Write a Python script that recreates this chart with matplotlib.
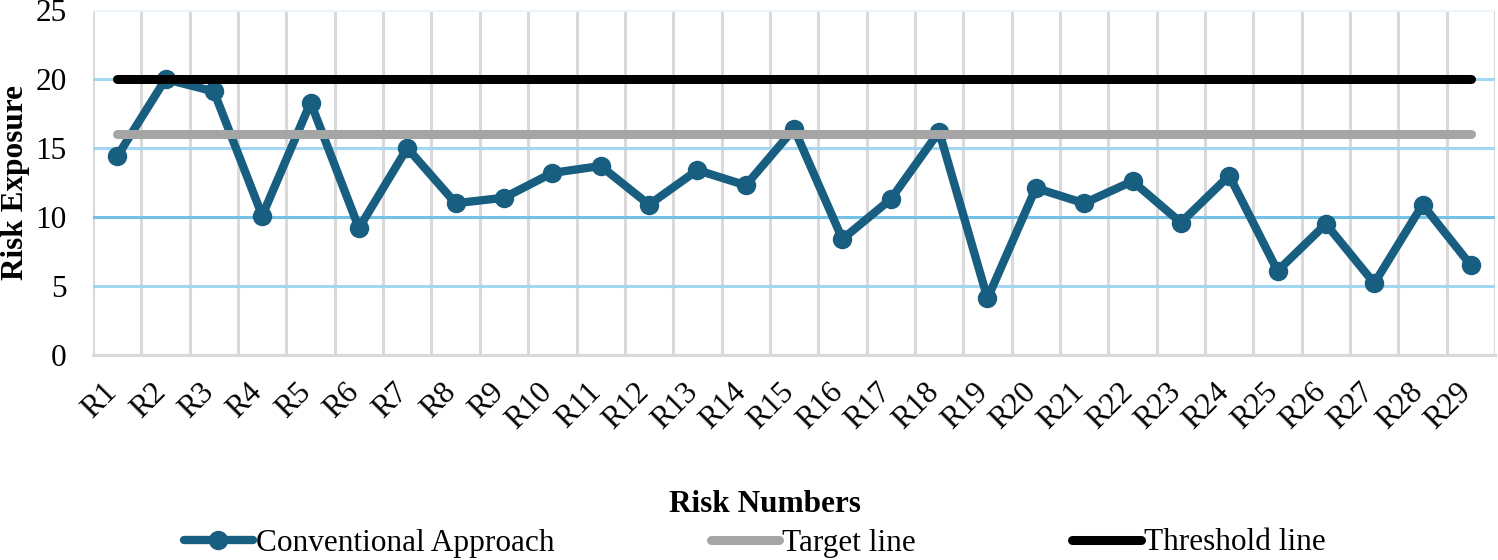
import matplotlib
matplotlib.use("Agg")
import matplotlib.pyplot as plt
from matplotlib.transforms import ScaledTranslation
import numpy as np

plt.rcParams['font.family'] = ['Liberation Serif', 'DejaVu Serif']

risks = ['R%d' % i for i in range(1, 30)]
conventional = [14.4, 20.0, 19.1, 10.1, 18.3, 9.2, 15.0, 11.0, 11.4, 13.2,
                13.7, 10.9, 13.4, 12.3, 16.4, 8.4, 11.3, 16.2, 4.1, 12.1,
                11.0, 12.6, 9.6, 13.0, 6.1, 9.5, 5.2, 10.9, 6.5]
target = [16] * 29
threshold = [20] * 29

fs = 22.5
fig = plt.figure(figsize=(14.98, 5.6), dpi=100)
ax = fig.add_axes([0.0621, 0.366, 0.936, 0.616])

x = np.arange(len(risks))
ax.plot(x, conventional, color='#185e80', lw=6, marker='o', markersize=13,
        label='Conventional Approach', solid_capstyle='round', zorder=3)
ax.plot(x, target, color='#a5a5a5', lw=6.5, label='Target line',
        solid_capstyle='round', zorder=4)
ax.plot(x, threshold, color='black', lw=6.5, label='Threshold line',
        solid_capstyle='round', zorder=5)

ax.set_xlim(-0.5, len(risks) - 0.5)
ax.set_ylim(0, 25)
ax.set_yticks([0, 5, 10, 15, 20, 25])
ax.set_xticks(x)
ax.set_xticklabels(risks, rotation=45, ha='right', fontsize=fs)
ax.set_xticks(np.arange(-0.5, len(risks)), minor=True)
ax.tick_params(axis='x', which='both', length=0, pad=16)
ax.tick_params(axis='y', length=0, pad=19, labelsize=fs)
shift = ScaledTranslation(6 / 100, 0, fig.dpi_scale_trans)
for lab in ax.get_xticklabels():
    lab.set_transform(lab.get_transform() + shift)

# gridlines
ax.grid(axis='y', color='#a3d7f1', lw=2.2, zorder=1)
ax.grid(axis='x', which='minor', color='#d9d9d9', lw=2.2, zorder=0)
ax.grid(axis='x', which='major', visible=False)
ygl = ax.get_ygridlines()
ygl[2].set_color('#74c1e8')
ygl[-1].set_color('#eaf5fc')
for s in ['top', 'right', 'left']:
    ax.spines[s].set_visible(False)
ax.spines['bottom'].set_color('#d9d9d9')
ax.spines['bottom'].set_linewidth(2.2)

ax.set_ylabel('Risk Exposure', fontsize=fs, fontweight='bold', va='center')
ax.yaxis.set_label_coords(-0.055, 0.5)
ax.set_xlabel('Risk Numbers', fontsize=fs, fontweight='bold', va='center')
ax.xaxis.set_label_coords(0.479, -0.432)

fig.legend(loc='center', bbox_to_anchor=(755 / 1498, 1 - 543 / 560),
           ncol=3, frameon=False, fontsize=fs, handlelength=2.2,
           handletextpad=0.1, columnspacing=5.0, numpoints=1,
           borderpad=0, borderaxespad=0)

fig.savefig('out.png', dpi=100)
